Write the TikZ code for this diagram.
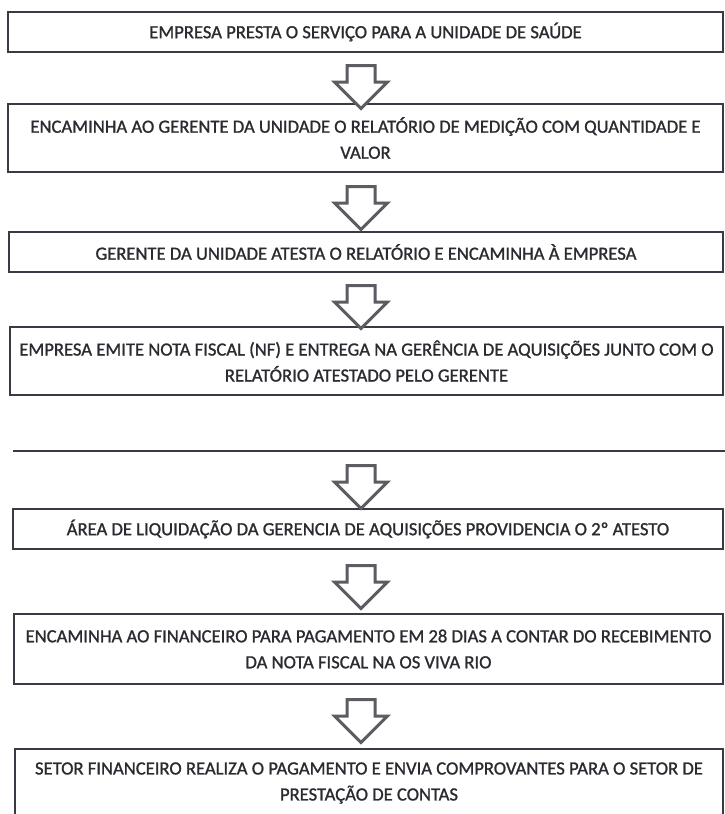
\documentclass[tikz,border=0pt]{standalone}
\usepackage{fontspec}
\setmainfont{Carlito}
\newfontfamily\boxfont{Carlito}[FakeBold=1.1]
\usetikzlibrary{shapes.arrows}
\definecolor{ink}{HTML}{2A2A30}
\definecolor{edge}{HTML}{3A3A44}
\definecolor{arrowgray}{HTML}{5C5C62}
\tikzset{
  stepbox/.style={draw=edge, line width=1.6pt, fill=white, inner sep=0pt,
    text=ink, align=center, font=\boxfont\fontsize{18.6}{26}\selectfont},
  downarrow/.style={single arrow, draw=arrowgray, line width=3pt, fill=white,
    rotate=-90, minimum height=43pt, minimum width=50pt,
    single arrow head extend=12.5pt, inner xsep=0pt, inner ysep=12.5pt},
  sepline/.style={draw=edge, line width=1.6pt}
}
\begin{document}
\begin{tikzpicture}[x=1pt,y=-1pt]
\useasboundingbox (0,0) rectangle (725,814);
\clip (0,0) rectangle (725,814);
\fill[white] (0,0) rectangle (725,814);
% boxes: centre x, centre y, width, height
\node[stepbox, minimum width=715pt, minimum height=40pt] (b1) at (365.5,32)
  {EMPRESA PRESTA O SERVIÇO PARA A UNIDADE DE SAÚDE};
\node[stepbox, minimum width=715pt, minimum height=68pt] (b2) at (365.5,138)
  {ENCAMINHA AO GERENTE DA UNIDADE O RELATÓRIO DE MEDIÇÃO COM QUANTIDADE E\\VALOR};
\node[stepbox, minimum width=714pt, minimum height=40pt] (b3) at (366,252)
  {GERENTE DA UNIDADE ATESTA O RELATÓRIO E ENCAMINHA À EMPRESA};
\node[stepbox, minimum width=713pt, minimum height=68pt] (b4) at (366.5,361)
  {EMPRESA EMITE NOTA FISCAL (NF) E ENTREGA NA GERÊNCIA DE AQUISIÇÕES JUNTO COM O\\RELATÓRIO ATESTADO PELO GERENTE};
\coordinate (l1) at (13,451);
\coordinate (l2) at (726,451);
\draw[sepline] (l1) -- (l2);
\node[stepbox, minimum width=710pt, minimum height=40pt] (b5) at (368,529)
  {ÁREA DE LIQUIDAÇÃO DA GERENCIA DE AQUISIÇÕES PROVIDENCIA O 2º ATESTO};
\node[stepbox, minimum width=709pt, minimum height=70pt] (b6) at (368.5,649)
  {ENCAMINHA AO FINANCEIRO PARA PAGAMENTO EM 28 DIAS A CONTAR DO RECEBIMENTO\\DA NOTA FISCAL NA OS VIVA RIO};
\node[stepbox, minimum width=708pt, minimum height=68pt] (b7) at (369,783)
  {SETOR FINANCEIRO REALIZA O PAGAMENTO E ENVIA COMPROVANTES PARA O SETOR DE\\PRESTAÇÃO DE CONTAS};
% block arrows
\node[downarrow] (a1) at (361,80) {};
\node[downarrow] (a2) at (361,201) {};
\node[downarrow] (a3) at (361,300) {};
\node[downarrow] (a4) at (361,480) {};
\node[downarrow] (a5) at (361,580) {};
\node[downarrow] (a6) at (361,714) {};
\end{tikzpicture}
\end{document}
